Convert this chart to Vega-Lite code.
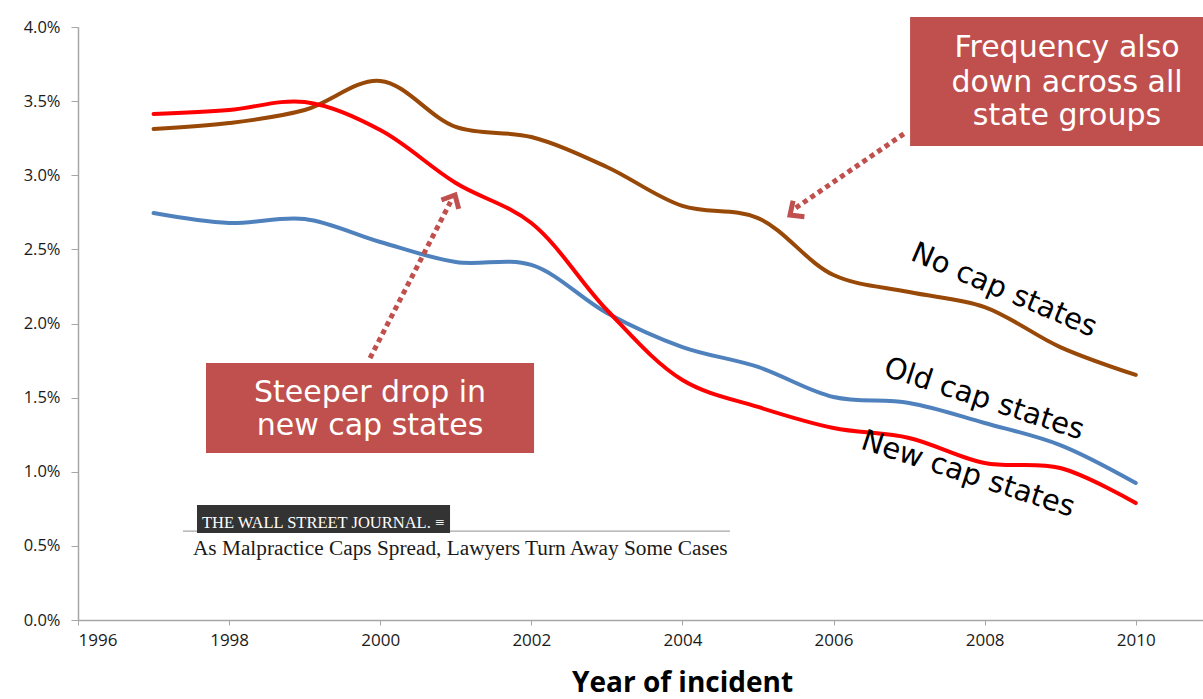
{
  "$schema": "https://vega.github.io/schema/vega-lite/v6.json",
  "width": 1125,
  "height": 593,
  "autosize": "none",
  "padding": {"left": 78, "top": 27, "right": 0, "bottom": 79},
  "background": "white",
  "config": {
    "view": {"stroke": null}
  },
  "datasets": {
    "rates": [
      {"year": 1997, "group": "No cap states", "rate": 0.03312},
      {"year": 1998, "group": "No cap states", "rate": 0.03352},
      {"year": 1999, "group": "No cap states", "rate": 0.03440},
      {"year": 2000, "group": "No cap states", "rate": 0.03636},
      {"year": 2001, "group": "No cap states", "rate": 0.03326},
      {"year": 2002, "group": "No cap states", "rate": 0.03258},
      {"year": 2003, "group": "No cap states", "rate": 0.03056},
      {"year": 2004, "group": "No cap states", "rate": 0.02793},
      {"year": 2005, "group": "No cap states", "rate": 0.02711},
      {"year": 2006, "group": "No cap states", "rate": 0.02327},
      {"year": 2007, "group": "No cap states", "rate": 0.02212},
      {"year": 2008, "group": "No cap states", "rate": 0.02111},
      {"year": 2009, "group": "No cap states", "rate": 0.01841},
      {"year": 2010, "group": "No cap states", "rate": 0.01653},
      {"year": 1997, "group": "Old cap states", "rate": 0.02745},
      {"year": 1998, "group": "Old cap states", "rate": 0.02678},
      {"year": 1999, "group": "Old cap states", "rate": 0.02705},
      {"year": 2000, "group": "Old cap states", "rate": 0.02550},
      {"year": 2001, "group": "Old cap states", "rate": 0.02415},
      {"year": 2002, "group": "Old cap states", "rate": 0.02395},
      {"year": 2003, "group": "Old cap states", "rate": 0.02071},
      {"year": 2004, "group": "Old cap states", "rate": 0.01841},
      {"year": 2005, "group": "Old cap states", "rate": 0.01707},
      {"year": 2006, "group": "Old cap states", "rate": 0.01504},
      {"year": 2007, "group": "Old cap states", "rate": 0.01464},
      {"year": 2008, "group": "Old cap states", "rate": 0.01329},
      {"year": 2009, "group": "Old cap states", "rate": 0.01180},
      {"year": 2010, "group": "Old cap states", "rate": 0.00924},
      {"year": 1997, "group": "New cap states", "rate": 0.03413},
      {"year": 1998, "group": "New cap states", "rate": 0.03440},
      {"year": 1999, "group": "New cap states", "rate": 0.03494},
      {"year": 2000, "group": "New cap states", "rate": 0.03305},
      {"year": 2001, "group": "New cap states", "rate": 0.02948},
      {"year": 2002, "group": "New cap states", "rate": 0.02678},
      {"year": 2003, "group": "New cap states", "rate": 0.02091},
      {"year": 2004, "group": "New cap states", "rate": 0.01619},
      {"year": 2005, "group": "New cap states", "rate": 0.01437},
      {"year": 2006, "group": "New cap states", "rate": 0.01295},
      {"year": 2007, "group": "New cap states", "rate": 0.01228},
      {"year": 2008, "group": "New cap states", "rate": 0.01059},
      {"year": 2009, "group": "New cap states", "rate": 0.01025},
      {"year": 2010, "group": "New cap states", "rate": 0.00789}
    ],
    "callouts": [
      {"id": "frequency", "x": 2007.013, "x2": 2010.95, "y": 0.04067, "y2": 0.03197},
      {"id": "steeper", "x": 1997.694, "x2": 2002.036, "y": 0.01734, "y2": 0.01126}
    ],
    "calloutText": [
      {"text": "Frequency also", "x": 2009.09, "y": 0.03798},
      {"text": "down across all", "x": 2009.09, "y": 0.03562},
      {"text": "state groups", "x": 2009.09, "y": 0.03339},
      {"text": "Steeper drop in", "x": 1999.865, "y": 0.014705},
      {"text": "new cap states", "x": 1999.865, "y": 0.01248}
    ],
    "arrows": [
      {"arrow": "frequency", "x": 2006.946, "y": 0.03285},
      {"arrow": "frequency", "x": 2005.50, "y": 0.02780},
      {"arrow": "steeper", "x": 1999.865, "y": 0.01767},
      {"arrow": "steeper", "x": 2000.93, "y": 0.02820}
    ],
    "arrowHeads": [
      {"arrow": "frequency", "x": 2005.424, "y": 0.02732, "angle": 234.5},
      {"arrow": "steeper", "x": 2000.99, "y": 0.02867, "angle": 27.5}
    ],
    "seriesLabels": [
      {"text": "No cap states", "x": 2008.257, "y": 0.02226, "angle": 23},
      {"text": "Old cap states", "x": 2007.992, "y": 0.01491, "angle": 18},
      {"text": "New cap states", "x": 2007.78, "y": 0.00985, "angle": 18}
    ],
    "masthead": [
      {"x": 1997.575, "x2": 2000.924, "y": 0.00776, "y2": 0.00587}
    ],
    "mastheadRule": [
      {"x": 1997.39, "x2": 2004.63, "y": 0.0060}
    ],
    "mastheadText": [
      {"text": "THE WALL STREET JOURNAL. ≡", "x": 1997.64, "y": 0.0062}
    ],
    "headline": [
      {"text": "As Malpractice Caps Spread, Lawyers Turn Away Some Cases", "x": 1997.522, "y": 0.00438}
    ]
  },
  "layer": [
    {
      "data": {"name": "rates"},
      "mark": {"type": "line", "interpolate": "catmull-rom", "strokeWidth": 4, "strokeCap": "round"},
      "encoding": {
        "x": {
          "field": "year",
          "type": "quantitative",
          "title": "Year of incident",
          "scale": {"domain": [1996, 2010.89], "nice": false, "zero": false},
          "axis": {
            "values": [1996, 1998, 2000, 2002, 2004, 2006, 2008, 2010],
            "format": "d",
            "grid": false,
            "domainColor": "#A6A6A6",
            "domainWidth": 1.5,
            "tickColor": "#A6A6A6",
            "tickSize": 5,
            "labelFont": "Open Sans",
            "labelFontSize": 17,
            "labelColor": "#1A1A1A",
            "labelPadding": 7,
            "titleFont": "Open Sans",
            "titleFontSize": 28,
            "titleFontWeight": "bold",
            "titleColor": "#000000",
            "titleX": 604,
            "titleY": 71,
            "titleAlign": "center",
            "titleBaseline": "alphabetic"
          }
        },
        "y": {
          "field": "rate",
          "type": "quantitative",
          "title": null,
          "scale": {"domain": [0, 0.04], "nice": false},
          "axis": {
            "values": [0, 0.005, 0.01, 0.015, 0.02, 0.025, 0.03, 0.035, 0.04],
            "format": ".1%",
            "grid": false,
            "domainColor": "#A6A6A6",
            "domainWidth": 1.5,
            "tickColor": "#A6A6A6",
            "tickSize": 7,
            "labelFont": "Open Sans",
            "labelFontSize": 16.5,
            "labelColor": "#1A1A1A",
            "labelPadding": 11
          }
        },
        "color": {
          "field": "group",
          "type": "nominal",
          "scale": {
            "domain": ["No cap states", "Old cap states", "New cap states"],
            "range": ["#984807", "#4F81BD", "#FF0000"]
          },
          "legend": null
        }
      }
    },
    {
      "data": {"name": "seriesLabels"},
      "mark": {"type": "text", "font": "DejaVu Sans", "fontSize": 29, "color": "#000000", "align": "center", "baseline": "middle"},
      "encoding": {
        "x": {"field": "x", "type": "quantitative", "title": "Year of incident"},
        "y": {"field": "y", "type": "quantitative", "title": null},
        "angle": {"field": "angle", "type": "quantitative", "scale": null},
        "text": {"field": "text"}
      }
    },
    {
      "data": {"name": "callouts"},
      "mark": {"type": "rect", "color": "#C0504D", "clip": false},
      "encoding": {
        "x": {"field": "x", "type": "quantitative", "title": "Year of incident"},
        "x2": {"field": "x2"},
        "y": {"field": "y", "type": "quantitative", "title": null},
        "y2": {"field": "y2"}
      }
    },
    {
      "data": {"name": "calloutText"},
      "mark": {"type": "text", "font": "DejaVu Sans", "fontSize": 30, "color": "#FFFFFF", "align": "center", "baseline": "alphabetic"},
      "encoding": {
        "x": {"field": "x", "type": "quantitative", "title": "Year of incident"},
        "y": {"field": "y", "type": "quantitative", "title": null},
        "text": {"field": "text"}
      }
    },
    {
      "data": {"name": "arrows"},
      "mark": {"type": "line", "color": "#C0504D", "strokeWidth": 5, "strokeDash": [5, 4], "strokeCap": "butt"},
      "encoding": {
        "x": {"field": "x", "type": "quantitative", "title": "Year of incident"},
        "y": {"field": "y", "type": "quantitative", "title": null},
        "detail": {"field": "arrow"}
      }
    },
    {
      "data": {"name": "arrowHeads"},
      "mark": {
        "type": "point",
        "shape": "M-1,1.1L0,0L1,1.1",
        "filled": false,
        "size": 380,
        "strokeWidth": 5,
        "strokeJoin": "miter",
        "color": "#C0504D",
        "opacity": 1
      },
      "encoding": {
        "x": {"field": "x", "type": "quantitative", "title": "Year of incident"},
        "y": {"field": "y", "type": "quantitative", "title": null},
        "angle": {"field": "angle", "type": "quantitative", "scale": null}
      }
    },
    {
      "data": {"name": "mastheadRule"},
      "mark": {"type": "rule", "color": "#A6A6A6", "strokeWidth": 1.2},
      "encoding": {
        "x": {"field": "x", "type": "quantitative", "title": "Year of incident"},
        "x2": {"field": "x2"},
        "y": {"field": "y", "type": "quantitative", "title": null}
      }
    },
    {
      "data": {"name": "masthead"},
      "mark": {"type": "rect", "color": "#333333"},
      "encoding": {
        "x": {"field": "x", "type": "quantitative", "title": "Year of incident"},
        "x2": {"field": "x2"},
        "y": {"field": "y", "type": "quantitative", "title": null},
        "y2": {"field": "y2"}
      }
    },
    {
      "data": {"name": "mastheadText"},
      "mark": {"type": "text", "font": "Liberation Serif", "fontSize": 16.5, "color": "#FFFFFF", "align": "left", "baseline": "alphabetic"},
      "encoding": {
        "x": {"field": "x", "type": "quantitative", "title": "Year of incident"},
        "y": {"field": "y", "type": "quantitative", "title": null},
        "text": {"field": "text"}
      }
    },
    {
      "data": {"name": "headline"},
      "mark": {"type": "text", "font": "Liberation Serif", "fontSize": 21.3, "color": "#1A1A1A", "align": "left", "baseline": "alphabetic"},
      "encoding": {
        "x": {"field": "x", "type": "quantitative", "title": "Year of incident"},
        "y": {"field": "y", "type": "quantitative", "title": null},
        "text": {"field": "text"}
      }
    }
  ]
}
